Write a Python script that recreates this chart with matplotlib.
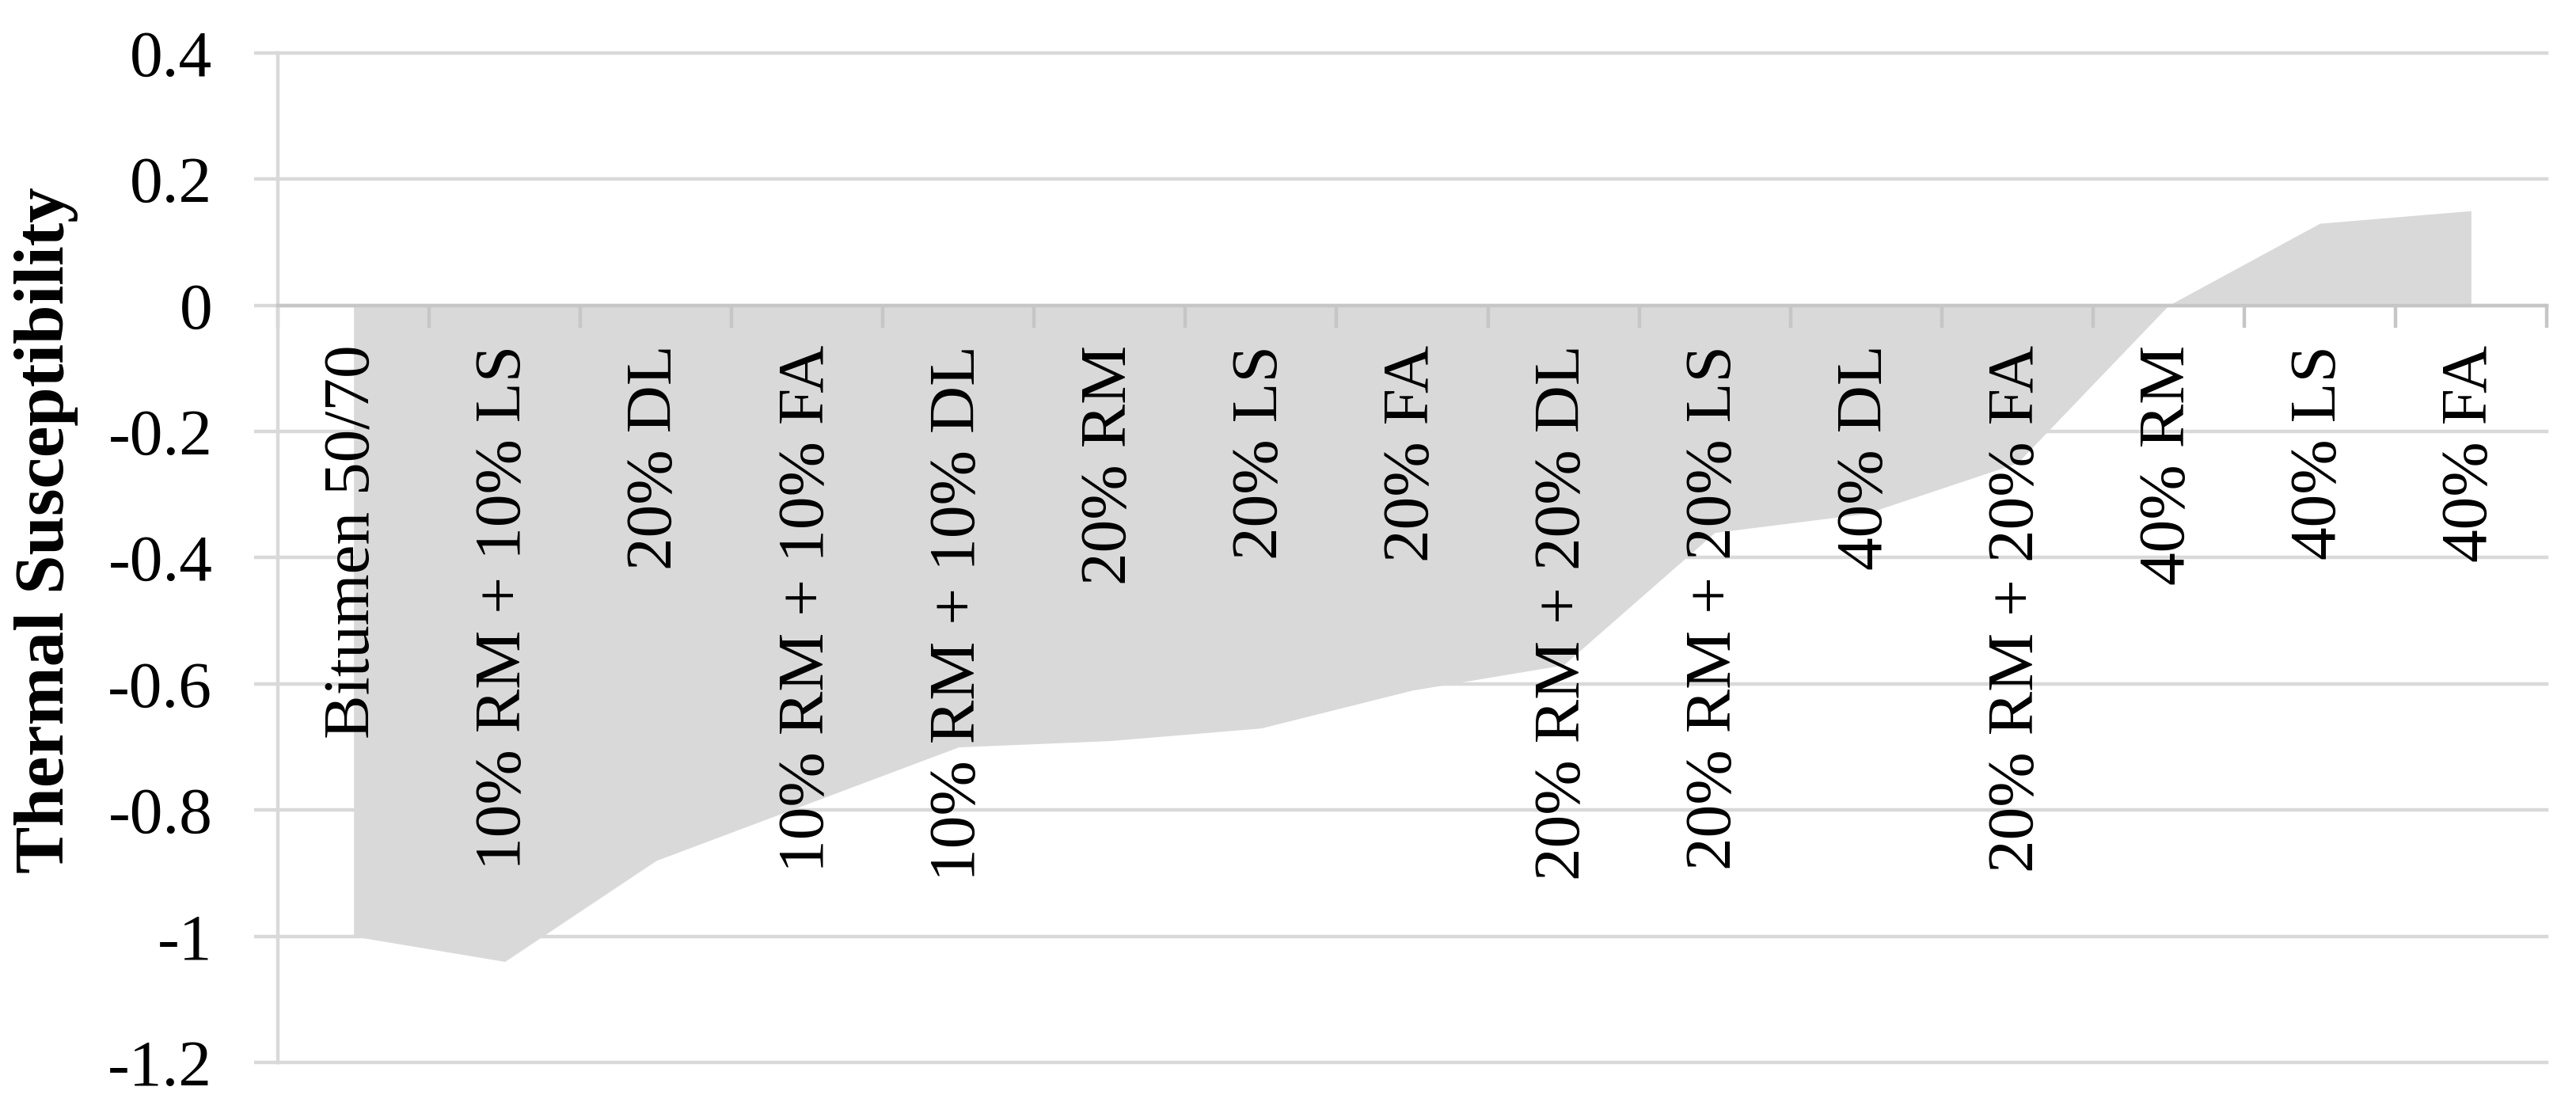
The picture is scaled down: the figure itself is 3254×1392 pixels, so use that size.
import numpy as np
import matplotlib
matplotlib.use("Agg")
import matplotlib.pyplot as plt
from matplotlib.ticker import FuncFormatter

# data
categories = ["Bitumen 50/70", "10% RM + 10% LS", "20% DL", "10% RM + 10% FA",
              "10% RM + 10% DL", "20% RM", "20% LS", "20% FA",
              "20% RM + 20% DL", "20% RM + 20% LS", "40% DL", "20% RM + 20% FA",
              "40% RM", "40% LS", "40% FA"]
susceptibility = [-1.00, -1.04, -0.88, -0.79, -0.70, -0.69, -0.67, -0.61,
                  -0.57, -0.36, -0.33, -0.25, 0.00, 0.13, 0.15]
y_ticks = [-1.2, -1.0, -0.8, -0.6, -0.4, -0.2, 0.0, 0.2, 0.4]

plt.rcParams['font.family'] = ['Liberation Serif', 'DejaVu Serif']

grid_col = '#D9D9D9'
axis_col = '#C6C6C6'
fill_col = '#D9D9D9'

fig = plt.figure(figsize=(32.54, 13.92), dpi=100)
ax = fig.add_axes([0.1079, 0.0359, 0.8807, 0.9160])

X = np.arange(len(categories))
ax.fill_between(X, susceptibility, 0, color=fill_col, linewidth=0, zorder=1)

ax.set_xlim(-0.5, len(categories) - 0.5)
ax.set_ylim(y_ticks[0], y_ticks[-1])

# gridlines go under the area, x axis (zero line, ticks, labels) on top
ax.set_axisbelow(True)
ax.xaxis.set_zorder(2)

ax.set_yticks(y_ticks)
ax.yaxis.set_major_formatter(FuncFormatter(lambda v, p: "0" if abs(v) < 1e-9 else f"{v:g}"))
ax.yaxis.grid(True, color=grid_col, linewidth=3.2)
for gl in ax.get_ygridlines():
    gl.set_clip_on(False)
ax.tick_params(axis='y', direction='out', length=21.6, width=3.2, color=grid_col,
               pad=38, labelsize=60)

ax.set_xticks(np.arange(-0.5, len(categories), 1))
ax.set_xticklabels([])
ax.set_xticks(X, labels=categories, minor=True)
ax.tick_params(axis='x', which='major', direction='out', length=20, width=3.2,
               color=axis_col)
ax.tick_params(axis='x', which='minor', length=0, pad=36, labelsize=60,
               labelrotation=90)

for s in ['top', 'right']:
    ax.spines[s].set_visible(False)
ax.spines['left'].set_color(grid_col)
ax.spines['left'].set_linewidth(3.2)
ax.spines['bottom'].set_position(('data', 0))
ax.spines['bottom'].set_color(axis_col)
ax.spines['bottom'].set_linewidth(3.2)

ax.set_ylabel('Thermal Susceptibility', fontsize=64, fontweight='bold')
ax.yaxis.set_label_coords(-0.088, 0.527)

fig.savefig('out.png', dpi=100)
